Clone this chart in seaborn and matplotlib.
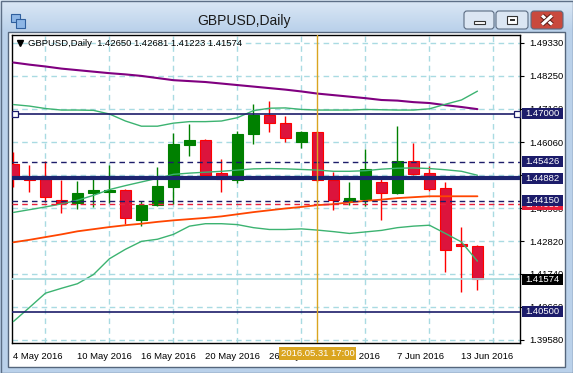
import numpy as np
import pandas as pd
import matplotlib
matplotlib.use("Agg")
import matplotlib.pyplot as plt
import matplotlib.patches as mpatches
import matplotlib.transforms as mtrans
import seaborn as sns

# ---------------- data ----------------
dates = ["2016-05-04", "2016-05-05", "2016-05-06", "2016-05-09", "2016-05-10",
         "2016-05-11", "2016-05-12", "2016-05-13", "2016-05-16", "2016-05-17",
         "2016-05-18", "2016-05-19", "2016-05-20", "2016-05-23", "2016-05-24",
         "2016-05-25", "2016-05-26", "2016-05-27", "2016-05-30", "2016-05-31",
         "2016-06-01", "2016-06-02", "2016-06-03", "2016-06-06", "2016-06-07",
         "2016-06-08", "2016-06-09", "2016-06-10", "2016-06-13", "2016-06-14"]

opens = [1.4534, 1.4489, 1.4485, 1.4416, 1.4407, 1.4440, 1.4443, 1.4451, 1.4351, 1.4402,
         1.4460, 1.4598, 1.4613, 1.4506, 1.4483, 1.4634, 1.4695, 1.4671, 1.4608, 1.4639,
         1.4482, 1.4415, 1.4420, 1.4475, 1.4440, 1.4544, 1.4505, 1.4455, 1.4271, 1.42650]
highs = [1.4573, 1.4531, 1.4546, 1.4482, 1.4478, 1.4489, 1.4531, 1.4454, 1.4415, 1.4524,
         1.4637, 1.4666, 1.4616, 1.4551, 1.4642, 1.4732, 1.4741, 1.4692, 1.4642, 1.4642,
         1.4509, 1.4476, 1.4584, 1.4485, 1.4660, 1.4603, 1.4528, 1.4476, 1.4327, 1.42681]
lows = [1.4460, 1.4443, 1.4410, 1.4374, 1.4386, 1.4394, 1.4407, 1.4338, 1.4331, 1.4397,
        1.4405, 1.4562, 1.4487, 1.4443, 1.4473, 1.4601, 1.4640, 1.4606, 1.4588, 1.4475,
        1.4385, 1.4400, 1.4397, 1.4351, 1.4438, 1.4498, 1.4446, 1.4179, 1.4115, 1.41223]
closes = [1.4493, 1.4483, 1.4427, 1.4408, 1.4441, 1.4448, 1.4449, 1.4359, 1.4402, 1.4462,
          1.4600, 1.4613, 1.4499, 1.4487, 1.4633, 1.4695, 1.4671, 1.4619, 1.4640, 1.4483,
          1.4416, 1.4423, 1.4518, 1.4440, 1.4544, 1.4502, 1.4453, 1.4254, 1.4266, 1.41574]

ma_purple = [1.4868, 1.4861, 1.4855, 1.4848, 1.4843, 1.4838, 1.4833, 1.4829, 1.4824, 1.4817,
             1.4810, 1.4807, 1.4804, 1.4799, 1.4794, 1.4789, 1.4784, 1.4779, 1.4773, 1.4766,
             1.4761, 1.4756, 1.4751, 1.4745, 1.4743, 1.4738, 1.4735, 1.4728, 1.4722, 1.4715]
ma_orange = [1.4278, 1.4286, 1.4295, 1.4304, 1.4314, 1.4321, 1.4328, 1.4334, 1.4339, 1.4345,
             1.4350, 1.4354, 1.4358, 1.4363, 1.4370, 1.4377, 1.4383, 1.4389, 1.4394, 1.4400,
             1.4403, 1.4409, 1.4414, 1.4418, 1.4423, 1.4426, 1.4429, 1.4429, 1.4429, 1.4429]
bb_upper = [1.4730, 1.4725, 1.4717, 1.4712, 1.4712, 1.4711, 1.4699, 1.4676, 1.4659, 1.4659,
            1.4669, 1.4674, 1.4674, 1.4676, 1.4687, 1.4710, 1.4718, 1.4719, 1.4714, 1.4712,
            1.4712, 1.4712, 1.4714, 1.4713, 1.4712, 1.4712, 1.4716, 1.4731, 1.4745, 1.4774]
bb_mid = [1.4376, 1.4385, 1.4394, 1.4404, 1.4416, 1.4432, 1.4451, 1.4464, 1.4476, 1.4488,
          1.4501, 1.4505, 1.4508, 1.4511, 1.4515, 1.4519, 1.4520, 1.4519, 1.4517, 1.4515,
          1.4511, 1.4511, 1.4513, 1.4518, 1.4521, 1.4522, 1.4520, 1.4516, 1.4511, 1.4498]
bb_lower = [1.4018, 1.4064, 1.4111, 1.4127, 1.4142, 1.4172, 1.4224, 1.4255, 1.4281, 1.4288,
            1.4304, 1.4331, 1.4339, 1.4339, 1.4336, 1.4326, 1.4320, 1.4320, 1.4322, 1.4318,
            1.4313, 1.4307, 1.4312, 1.4317, 1.4326, 1.4331, 1.4334, 1.4307, 1.4279, 1.4216]

grid_levels = [1.39580, 1.40660, 1.41740, 1.42820, 1.43900, 1.44980, 1.46060, 1.47160, 1.48250, 1.49330]
tick_bars = [0, 4, 8, 12, 16, 20, 24, 28]

# horizontal objects: (price, line style, line width, colour of line, colour of price box)
levels = [
    (1.47000, "solid", 1.2, "#1c1c6a", "#1c1c6a"),
    (1.45426, (0, (4, 3)), 1.0, "#1c1c6a", "#1c1c6a"),
    (1.44882, "solid", 3.0, "#1c2470", "#1c1c6a"),
    (1.44030, (0, (4, 3)), 1.0, "#e8203c", "#e8203c"),
    (1.44150, (0, (4, 3)), 1.0, "#1c1c6a", "#1c1c6a"),
    (1.41574, "solid", 1.2, "#a6dade", "#000000"),
    (1.40500, "solid", 1.2, "#1c1c6a", "#1c1c6a"),
]
cursor_bar = 19
cursor_label = "2016.05.31 17:00"
info = "GBPUSD,Daily  1.42650 1.42681 1.41223 1.41574"

# ---------------- style ----------------
sns.set_style("white")
plt.rcParams["font.family"] = ["Liberation Sans", "DejaVu Sans"]
FS = 6.8
grid_c = "#a9dbe2"

W, H = 573, 373
fig = plt.figure(figsize=(W / 100, H / 100), dpi=100)

# window chrome in pixel coordinates
bg = fig.add_axes([0, 0, 1, 1])
top_c = np.array([0.86, 0.91, 0.96])
frame_c = np.array([0.73, 0.82, 0.92])
img = np.ones((H, 1, 3)) * frame_c
t = np.linspace(0, 1, 31)[:, None]
img[:31, 0, :] = top_c * (1 - t) + frame_c * t
bg.imshow(img, extent=[0, W, H, 0], aspect="auto", interpolation="bilinear")
bg.set_xlim(0, W)
bg.set_ylim(H, 0)
bg.axis("off")
bg.add_patch(mpatches.Rectangle((0.5, 0.5), W - 1, H - 1, fill=False, ec="#5d6f86", lw=1))
bg.add_patch(mpatches.Rectangle((7.5, 31.5), 557, 335, fc="white", ec="#55667c", lw=1))
bg.text(244, 21.5, "GBPUSD,Daily", ha="center", va="center", fontsize=10, color="#1a1a1a")

# caption icon
bg.add_patch(mpatches.Rectangle((11, 14), 9, 8, fc="#8db6e6", ec="#2f5f9e", lw=0.8))
bg.add_patch(mpatches.Rectangle((16, 19), 9, 9, fc="#8db6e6", ec="#2f5f9e", lw=0.8))

# caption buttons
for x0, x1, fc in [(464, 494, "#dbe6f3"), (496, 528, "#dbe6f3"), (531, 563, "#c9493d")]:
    bg.add_patch(mpatches.FancyBboxPatch((x0, 11), x1 - x0, 18,
                                         boxstyle="round,pad=0,rounding_size=3",
                                         fc=fc, ec="#5b6c82", lw=0.8))
bg.add_patch(mpatches.Rectangle((474, 20.5), 11, 3.5, fc="white", ec="#333333", lw=0.8))
bg.add_patch(mpatches.Rectangle((507, 15.5), 10, 8, fc="white", ec="#333333", lw=0.8))
bg.add_patch(mpatches.Rectangle((509.5, 18.5), 5, 2.5, fc="#333333", ec="none"))
for xs, ys in [([542, 552], [15.5, 24.5]), ([542, 552], [24.5, 15.5])]:
    bg.plot(xs, ys, color="#5a1a14", lw=3.6, solid_capstyle="butt")
    bg.plot(xs, ys, color="white", lw=2.2, solid_capstyle="butt")

# ---------------- chart ----------------
ax = fig.add_axes([12 / W, 1 - 342.5 / H, 508 / W, 307.5 / H])
ax.set_facecolor("white")
idx = np.arange(len(dates))
ohlc = pd.DataFrame({"bar": idx, "open": opens, "high": highs, "low": lows, "close": closes})
ohlc["up"] = ohlc["close"] >= ohlc["open"]

ind = pd.DataFrame({"bar": idx, "ma_purple": ma_purple, "ma_orange": ma_orange,
                    "upper": bb_upper, "mid": bb_mid, "lower": bb_lower})

# candles
for up, fill, edge in [(True, "#008000", "#008000"), (False, "#dc143c", "#ff0000")]:
    d = ohlc[ohlc["up"] == up]
    ax.vlines(d["bar"], d["low"], d["high"], colors=edge, lw=1, zorder=2.9)
    ax.bar(d["bar"], (d["close"] - d["open"]).abs().clip(lower=0.00025),
           bottom=d[["open", "close"]].min(axis=1), width=0.65,
           color=fill, edgecolor=edge, linewidth=0.8, zorder=3)

# indicators
sns.lineplot(data=ind, x="bar", y="ma_purple", color="#800080", lw=1.5, ax=ax, zorder=4, legend=False)
sns.lineplot(data=ind, x="bar", y="ma_orange", color="#ff4500", lw=1.3, ax=ax, zorder=4, legend=False)
for col in ["upper", "mid", "lower"]:
    sns.lineplot(data=ind, x="bar", y=col, color="#3cb371", lw=1.0, ax=ax, zorder=4, legend=False)

# horizontal objects and their price boxes
tr_box = mtrans.blended_transform_factory(ax.transAxes, ax.transData)
box_x0, box_w, box_h = 1.004, 0.0807, 0.0036
for z, (price, ls, lw, lc, bc) in enumerate(levels):
    ax.axhline(price, color=lc, ls=ls, lw=lw, zorder=5)
    ax.add_patch(mpatches.Rectangle((box_x0, price - box_h / 2), box_w, box_h, transform=tr_box,
                                    fc=bc, ec="none", clip_on=False, zorder=10 + 2 * z))
    ax.text(box_x0 + box_w / 2, price, f"{price:.5f}", transform=tr_box, ha="center",
            va="center", color="white", fontsize=FS, clip_on=False, zorder=11 + 2 * z)
ax.plot([0.006, 0.994], [levels[0][0]] * 2, transform=tr_box, ls="none", marker="s", ms=4,
        mfc="white", mec="#1c1c6a", mew=0.9, clip_on=False, zorder=6)

# cursor line and its time box
ax.axvline(cursor_bar, color="#daa520", lw=1, zorder=5)
tr_time = mtrans.blended_transform_factory(ax.transData, ax.transAxes)
ax.text(cursor_bar, -0.036, cursor_label, transform=tr_time, ha="center", va="center",
        color="white", fontsize=FS, clip_on=False, zorder=30,
        bbox=dict(boxstyle="square,pad=0.2", fc="#daa520", ec="none"))

# info line
ax.plot(0.0157, 0.974, marker="v", ms=4.5, color="black", transform=ax.transAxes, clip_on=False, zorder=8)
ax.text(0.0315, 0.972, info, transform=ax.transAxes, ha="left", va="center", fontsize=FS,
        color="black", zorder=8)

# axes, ticks, grid
ax.set_xlim(-0.09, 31.66)
ax.set_ylim(1.39491, 1.49583)
ax.yaxis.tick_right()
ax.set_yticks(grid_levels)
ax.set_yticklabels([f"{v:.5f}" for v in grid_levels])
dts = pd.to_datetime(dates)
ax.set_xticks(tick_bars)
ax.set_xticklabels([f"{dts[i].day} {dts[i]:%b %Y}" for i in tick_bars], ha="left")
ax.set_xticks(np.arange(0, 32, 2), minor=True)
ax.tick_params(axis="x", which="major", length=4, width=0.8, pad=2.5, labelsize=FS, colors="black")
ax.tick_params(axis="x", which="minor", length=0)
ax.tick_params(axis="y", length=3, width=0.8, pad=3.5, labelsize=FS, colors="black")
ax.grid(True, which="minor", axis="x", color=grid_c, ls=(0, (4, 3)), lw=1)
ax.grid(True, which="major", axis="y", color=grid_c, ls=(0, (4, 3)), lw=1)
ax.set_xlabel("")
ax.set_ylabel("")
for sp in ax.spines.values():
    sp.set_color("black")
    sp.set_linewidth(1)

fig.savefig("out.png", dpi=100)
